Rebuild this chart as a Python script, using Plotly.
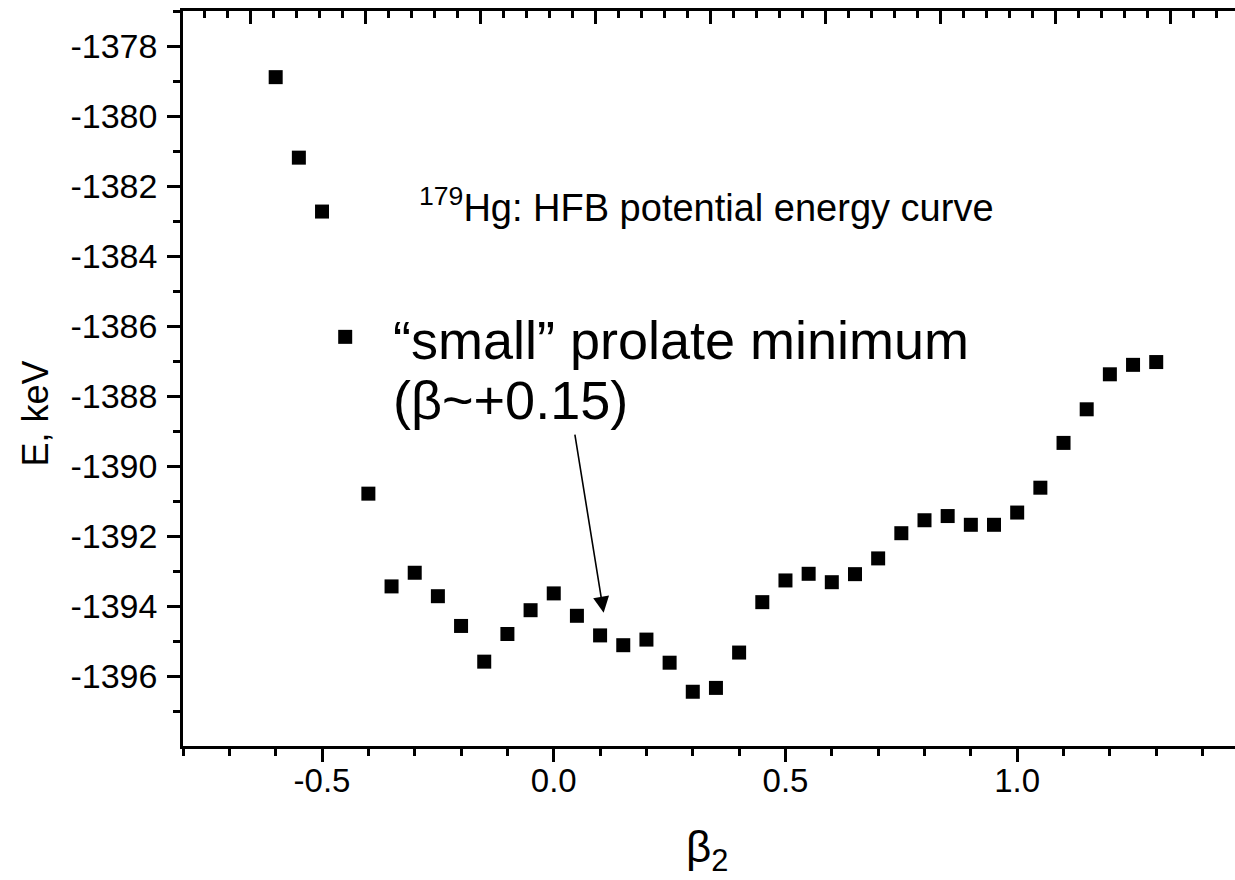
import plotly.graph_objects as go

# ---- data ----
beta2 = [-0.60, -0.55, -0.50, -0.45, -0.40, -0.35, -0.30, -0.25, -0.20, -0.15,
         -0.10, -0.05, 0.00, 0.05, 0.10, 0.15, 0.20, 0.25, 0.30, 0.35,
         0.40, 0.45, 0.50, 0.55, 0.60, 0.65, 0.70, 0.75, 0.80, 0.85,
         0.90, 0.95, 1.00, 1.05, 1.10, 1.15, 1.20, 1.25, 1.30]
energy = [-1378.89, -1381.19, -1382.73, -1386.31, -1390.79, -1393.44, -1393.05, -1393.72, -1394.57, -1395.59,
          -1394.80, -1394.12, -1393.64, -1394.28, -1394.84, -1395.12, -1394.96, -1395.62, -1396.45, -1396.34,
          -1395.33, -1393.89, -1393.27, -1393.08, -1393.32, -1393.09, -1392.64, -1391.92, -1391.55, -1391.43,
          -1391.68, -1391.68, -1391.33, -1390.62, -1389.34, -1388.38, -1387.38, -1387.11, -1387.03]

y_tick_vals = [-1378, -1380, -1382, -1384, -1386, -1388, -1390, -1392, -1394, -1396]
y_tick_text = ["-1378", "-1380", "-1382", "-1384", "-1386", "-1388", "-1390", "-1392", "-1394", "-1396"]
x_tick_vals = [-0.5, 0.0, 0.5, 1.0]
x_tick_text = ["-0.5", "0.0", "0.5", "1.0"]

FONT = "Liberation Sans, Arial, sans-serif"
XR = [-0.80, 1.47]
YR = [-1398, -1377]

fig = go.Figure()
fig.add_trace(go.Scatter(
    x=beta2, y=energy, mode="markers",
    marker=dict(symbol="square", size=14, color="black", line=dict(width=0)),
    showlegend=False, hoverinfo="x+y",
))
# invisible trace to activate top axis
fig.add_trace(go.Scatter(x=[XR[0]], y=[YR[0]], xaxis="x2", mode="markers",
                         marker=dict(opacity=0), showlegend=False, hoverinfo="skip"))

fig.update_layout(
    width=1235, height=880,
    margin=dict(l=183, r=0, t=11, b=134),
    paper_bgcolor="white", plot_bgcolor="white",
    font=dict(family=FONT, color="black"),
    xaxis=dict(
        range=XR, showgrid=False, zeroline=False,
        showline=True, linecolor="black", linewidth=2.5,
        tickmode="array", tickvals=x_tick_vals, ticktext=x_tick_text,
        ticks="outside", ticklen=13, tickwidth=2.5, tickcolor="black",
        tickfont=dict(family=FONT, size=33, color="black"),
        minor=dict(tickmode="linear", tick0=-0.8, dtick=0.1, ticks="outside",
                   ticklen=7, tickwidth=2.5, tickcolor="black", showgrid=False),
        ticklabelstandoff=-9,
    ),
    xaxis2=dict(
        range=XR, overlaying="x", side="top", showgrid=False, zeroline=False,
        showline=True, linecolor="black", linewidth=2.5,
        showticklabels=False,
        tickmode="linear", tick0=-0.6546, dtick=0.2481,
        ticks="inside", ticklen=13, tickwidth=2.5, tickcolor="black",
        minor=dict(tickmode="linear", tick0=-0.6546, dtick=0.04962, ticks="inside",
                   ticklen=7, tickwidth=2.5, tickcolor="black", showgrid=False),
    ),
    yaxis=dict(
        range=YR, showgrid=False, zeroline=False,
        showline=True, linecolor="black", linewidth=2.5,
        tickmode="array", tickvals=y_tick_vals, ticktext=y_tick_text,
        ticks="outside", ticklen=13, tickwidth=2.5, tickcolor="black",
        tickfont=dict(family=FONT, size=34, color="black"),
        minor=dict(tickmode="linear", tick0=-1377, dtick=2, ticks="outside",
                   ticklen=7, tickwidth=2.5, tickcolor="black", showgrid=False),
        ticklabelstandoff=3,
    ),
)

annotations = [
    # y-axis title
    dict(text="E, keV", xref="paper", yref="y", x=0, y=-1388.5, xshift=-148,
         xanchor="center", yanchor="middle", textangle=-90, showarrow=False,
         font=dict(family=FONT, size=36, color="black")),
    # x-axis title
    dict(text="β<sub>2</sub>", xref="x", yref="paper", x=0.33, y=0, yshift=-104,
         xanchor="center", yanchor="middle", showarrow=False,
         font=dict(family=FONT, size=44, color="black")),
    # chart label
    dict(text="<sup>179</sup>Hg: HFB potential energy curve", xref="x", yref="y",
         x=-0.295, y=-1382.55, xanchor="left", yanchor="middle", showarrow=False,
         font=dict(family=FONT, size=38, color="black")),
    # big annotation, line 1
    dict(text="“small” prolate minimum", xref="x", yref="y",
         x=-0.352, y=-1386.4, xanchor="left", yanchor="middle", showarrow=False,
         font=dict(family=FONT, size=54, color="black")),
    # big annotation, line 2
    dict(text="(β~+0.15)", xref="x", yref="y",
         x=-0.352, y=-1388.1, xanchor="left", yanchor="middle", showarrow=False,
         font=dict(family=FONT, size=54, color="black")),
    # arrow
    dict(text="", xref="x", yref="y", axref="x", ayref="y",
         x=0.1077, y=-1394.19, ax=0.0451, ay=-1389.06,
         showarrow=True, arrowhead=2, arrowsize=2.0, arrowwidth=1.6, arrowcolor="black"),
]
fig.update_layout(annotations=annotations)

fig.write_html("out.html")
